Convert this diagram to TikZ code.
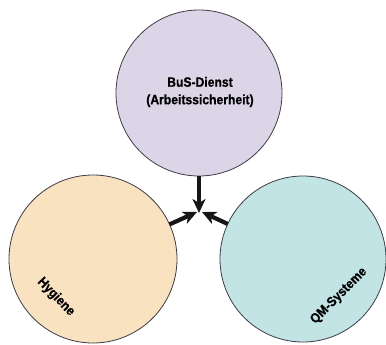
\documentclass[tikz,border=0pt]{standalone}
\usepackage{fontspec}
\newfontfamily\labfont[FakeStretch=0.9, FakeBold=0.6]{Liberation Sans}
\usetikzlibrary{arrows.meta}
\definecolor{topfill}{RGB}{220,213,231}
\definecolor{leftfill}{RGB}{248,226,191}
\definecolor{rightfill}{RGB}{194,228,228}
\definecolor{rim}{RGB}{60,60,70}
\definecolor{arrowcol}{RGB}{22,22,22}
\tikzset{
  ball/.style={circle, draw=rim, line width=0.8pt, inner sep=0pt, outer sep=0pt},
  lab/.style={font=\labfont\bfseries\fontsize{13.5}{17.5}\selectfont, text=black, align=center, inner sep=0pt},
  fatarrow/.style={draw=arrowcol, line width=4.2pt, -{Stealth[length=14pt,width=13pt,inset=4pt]}}
}
\begin{document}
\begin{tikzpicture}[x=1pt,y=-1pt]
\useasboundingbox (0,0) rectangle (386,345);
\node[ball, fill=topfill, minimum size=166pt] (bus) at (199,93) {};
\node[ball, fill=leftfill, minimum size=168pt] (hyg) at (93,259) {};
\node[ball, fill=rightfill, minimum size=166pt] (qm) at (303,259) {};
\node[lab] (bustext) at (200,92) {BuS-Dienst\\(Arbeitssicherheit)};
\node[lab, rotate=-46] (hygtext) at (56,297) {Hygiene};
\node[lab, rotate=45] (qmtext) at (339,296) {QM-Systeme};
\coordinate (tipc) at (199,213);
\coordinate (tipl) at (197,212);
\coordinate (tipr) at (202,212);
\draw[fatarrow] (bus.south) -- (tipc);
\draw[fatarrow] (hyg) -- (tipl);
\draw[fatarrow] (qm) -- (tipr);
\end{tikzpicture}
\end{document}
